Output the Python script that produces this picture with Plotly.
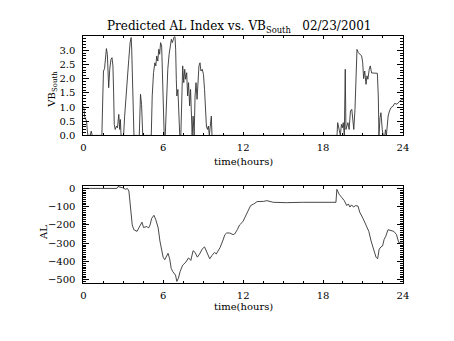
import plotly.graph_objects as go

# ---------------- data ----------------
# VB_South (top panel): time in hours, value
vb_t = [0.00, 0.05, 0.10, 0.17, 0.24, 0.29, 0.34, 0.51, 0.59, 0.66,
        1.39, 1.46, 1.51, 1.59, 1.66, 1.73, 1.80, 1.85, 1.90, 1.98, 2.07, 2.15, 2.22, 2.27, 2.32,
        2.39, 2.49, 2.56, 2.66, 2.73, 2.78, 2.83,
        3.02, 3.10, 3.22, 3.32, 3.41, 3.51, 3.59, 3.63, 3.71, 3.76, 3.80,
        4.20, 4.24, 4.29, 4.37, 4.41, 4.46,
        5.10, 5.17, 5.27, 5.37, 5.44, 5.51, 5.59, 5.66, 5.73, 5.80, 5.88, 5.95, 6.02, 6.07,
        6.15, 6.24, 6.34, 6.44, 6.54, 6.61, 6.68, 6.76, 6.83, 6.88, 6.93, 6.98, 7.02, 7.10, 7.17, 7.24,
        7.32, 7.39, 7.46, 7.54, 7.61, 7.68, 7.76, 7.83, 7.90, 7.98, 8.05, 8.12, 8.17, 8.24, 8.32,
        8.39, 8.46, 8.54, 8.61, 8.68, 8.76, 8.83, 8.93, 9.02, 9.10, 9.17, 9.24, 9.32, 9.39, 9.46, 9.54, 9.61, 9.66,
        19.05, 19.10, 19.18, 19.30, 19.38, 19.45, 19.52, 19.60, 19.67, 19.72, 19.79, 19.87, 19.96,
        20.06, 20.16, 20.23, 20.31, 20.40, 20.48, 20.55, 20.65, 20.77, 20.90, 20.98, 21.05, 21.13,
        21.23, 21.30, 21.37, 21.47, 21.55, 21.65, 21.72, 21.84, 22.08, 22.15, 22.20, 22.28,
        22.35, 22.45, 22.52, 22.64, 22.69, 22.76, 22.89, 22.99, 23.11, 23.26, 23.38, 23.55, 23.72, 23.85, 24.00]
vb_v = [1.04, 0.92, 0.66, 0.59, 0.50, 0.20, 0.00, 0.00, 0.15, 0.00,
        0.00, 1.39, 2.27, 2.35, 2.68, 3.06, 2.86, 2.20, 1.68, 2.33, 2.68, 2.74, 2.45, 1.56, 0.39,
        0.21, 0.33, 0.27, 0.74, 0.21, 0.56, 0.00,
        0.00, 0.68, 1.62, 2.21, 2.68, 3.27, 3.45, 3.04, 1.86, 0.80, 0.00,
        0.00, 0.80, 1.45, 1.09, 0.56, 0.00,
        0.00, 1.39, 2.21, 2.56, 2.45, 2.80, 2.62, 3.04, 2.86, 3.27, 3.15, 2.21, 0.80, 0.00,
        0.00, 1.39, 2.33, 2.86, 3.15, 3.39, 3.27, 3.45, 3.49, 3.49, 3.04, 1.98, 1.39, 1.62, 0.80, 0.00,
        0.00, 1.98, 2.45, 1.86, 2.33, 1.98, 2.21, 1.39, 1.86, 1.04, 1.62, 0.68, 0.00, 0.68, 0.00,
        1.39, 1.86, 1.27, 1.74, 2.45, 2.56, 2.27, 2.33, 2.15, 1.62, 0.80, 0.33, 0.21, 0.33, 0.00, 0.56, 0.68, 0.00,
        0.00, 0.45, 0.27, 0.00, 0.39, 0.27, 0.45, 0.00, 2.33, 0.21, 0.33, 0.45, 0.21,
        0.86, 0.92, 0.45, 0.21, 0.92, 2.56, 3.03, 2.92, 2.86, 2.80, 2.56, 2.00, 2.27,
        1.80, 2.10, 1.98, 2.33, 2.45, 2.20, 2.20, 2.20, 2.19, 1.39, 0.00, 0.62,
        0.80, 0.20, 0.00, 0.00, 0.20, 0.00, 0.68, 0.86, 0.98, 1.03, 1.13, 1.10, 1.21, 1.25, 1.27]

# AL index (bottom panel): time in hours, value (nT)
al_t = [0.00, 2.52, 2.60, 2.93, 3.18, 3.30, 3.42, 3.55, 3.67, 3.79, 4.03, 4.16, 4.28, 4.40, 4.52,
        4.77, 4.89, 5.01, 5.13, 5.30, 5.45, 5.62, 5.75, 5.87, 5.99, 6.11, 6.24, 6.36, 6.48, 6.60,
        6.72, 6.92, 7.02, 7.14, 7.26, 7.46, 7.70, 7.90, 8.07, 8.24, 8.39, 8.56, 8.73, 8.92, 9.10,
        9.29, 9.49, 9.66, 9.85, 9.98, 10.15, 10.27, 10.46, 10.63, 10.76, 11.00, 11.25, 11.37, 11.56,
        11.73, 11.98, 12.30, 12.56, 12.80, 13.05, 13.54, 13.78, 14.27, 15.25, 16.47, 17.70, 18.97,
        19.04, 19.21, 19.40, 19.60, 19.78, 19.90, 20.02, 20.14, 20.29, 20.44, 20.63, 20.75, 21.00,
        21.24, 21.44, 21.61, 21.80, 21.98, 22.10, 22.22, 22.35, 22.47, 22.59, 22.71, 22.88, 23.08,
        23.32, 23.52, 23.69, 24.00]
al_v = [0, 0, 10, 4, -5, 0, -14, -94, -200, -226, -235, -217, -200, -185, -214,
        -208, -217, -200, -164, -147, -173, -217, -288, -341, -376, -390, -367, -355, -385, -438,
        -456, -474, -509, -491, -456, -420, -403, -380, -394, -341, -350, -376, -359, -332, -320,
        -350, -385, -367, -350, -359, -341, -323, -288, -253, -244, -244, -253, -249, -226,
        -200, -182, -129, -94, -85, -72, -71, -67, -76, -78, -76, -78, -76,
        -5, -32, -49, -67, -94, -85, -102, -90, -102, -94, -97, -129, -164,
        -200, -235, -288, -341, -376, -385, -332, -320, -315, -279, -262, -226, -231,
        -235, -253, -297, -300]

x_tickvals = [0, 6, 12, 18, 24]

# ---------------- figure ----------------
FONT = "DejaVu Serif"
W, H = 454, 341
x0, x1 = 82, 408
top_y0, top_y1 = 34.3, 136
bot_y0, bot_y1 = 188, 287.5


def dom_y(a, b):
    return [1 - b / H, 1 - a / H]


fig = go.Figure()
fig.add_trace(go.Scatter(x=vb_t, y=vb_v, mode="lines",
                         line=dict(color="#333333", width=0.9), xaxis="x", yaxis="y"))
fig.add_trace(go.Scatter(x=al_t, y=al_v, mode="lines",
                         line=dict(color="#333333", width=0.9), xaxis="x2", yaxis="y2"))

common = dict(showline=True, linecolor="black", linewidth=1, mirror="allticks",
              ticks="inside", tickcolor="black", tickwidth=1, showgrid=False, zeroline=False,
              tickfont=dict(family=FONT, size=10, color="black"))

xcommon = dict(common, range=[0, 24], tickvals=x_tickvals, ticklen=3,
               minor=dict(ticks="inside", dtick=1.5, tick0=0, ticklen=2, tickcolor="black",
                          showgrid=False),
               ticklabelstandoff=3)

fig.update_layout(
    width=W, height=H, margin=dict(l=0, r=0, t=0, b=0),
    paper_bgcolor="white", plot_bgcolor="white", showlegend=False,
    xaxis=dict(xcommon, domain=[x0 / W, x1 / W], anchor="y"),
    xaxis2=dict(xcommon, domain=[x0 / W, x1 / W], anchor="y2"),
    yaxis=dict(common, domain=dom_y(top_y0, top_y1), anchor="x", range=[0, 3.49],
               dtick=0.5, tick0=0, tickformat=".1f", ticklen=6,
               minor=dict(ticks="inside", dtick=0.1, ticklen=3, tickcolor="black", showgrid=False),
               ticklabelstandoff=5),
    yaxis2=dict(common, domain=dom_y(bot_y0, bot_y1), anchor="x2", range=[-517, 13],
                dtick=100, tick0=0, ticklen=6,
                minor=dict(ticks="inside", dtick=10, ticklen=3, tickcolor="black", showgrid=False),
                ticklabelstandoff=5),
)

annos = [
    dict(text="Predicted AL Index vs. VB<sub>South</sub>   02/23/2001", x=241 / W, y=1 - 25 / H,
         font=dict(family=FONT, size=12, color="black")),
    dict(text="time(hours)", x=245 / W, y=1 - 163 / H, font=dict(family=FONT, size=10, color="black")),
    dict(text="time(hours)", x=245 / W, y=1 - 312 / H, font=dict(family=FONT, size=10, color="black")),
    dict(text="VB<sub>South</sub>", x=51 / W, y=1 - 88 / H, textangle=-90,
         font=dict(family=FONT, size=10, color="black")),
    dict(text="AL", x=42 / W, y=1 - 236 / H, textangle=-90,
         font=dict(family=FONT, size=10, color="black")),
]
for a in annos:
    fig.add_annotation(xref="paper", yref="paper", showarrow=False,
                       xanchor="center", yanchor="middle", **a)

fig.write_html("out.html")
